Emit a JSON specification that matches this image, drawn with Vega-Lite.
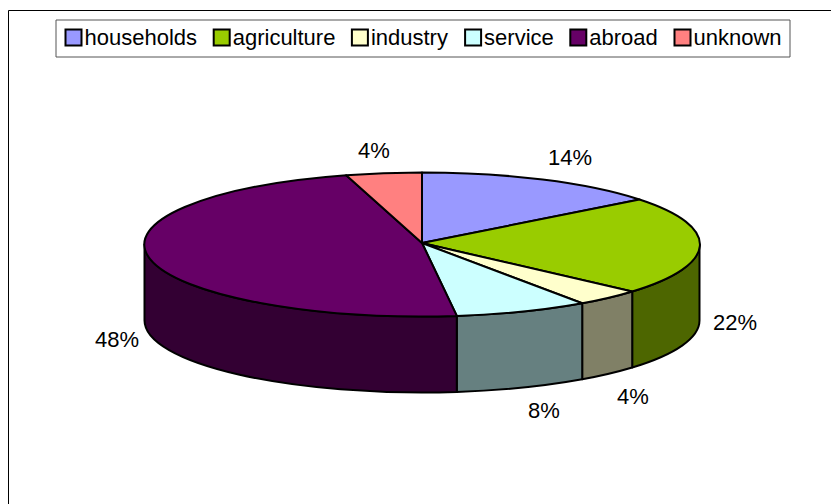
{
  "$schema": "https://vega.github.io/schema/vega-lite/v6.json",
  "width": 823,
  "height": 494,
  "autosize": "none",
  "padding": {"left": 8, "top": 10, "right": 0, "bottom": 0},
  "background": "white",
  "view": {"stroke": "black", "strokeWidth": 1, "fill": "white"},
  "data": {
    "values": [
      {"rank": 1, "slice": "households", "share": 0.14},
      {"rank": 2, "slice": "agriculture", "share": 0.22},
      {"rank": 3, "slice": "industry", "share": 0.04},
      {"rank": 4, "slice": "service", "share": 0.08},
      {"rank": 5, "slice": "abroad", "share": 0.48},
      {"rank": 6, "slice": "unknown", "share": 0.04}
    ]
  },
  "layer": [
    {
      "transform": [{"filter": {"field": "slice", "oneOf": ["agriculture", "industry", "service", "abroad"]}}],
      "mark": {"type": "point", "filled": true, "opacity": 1, "stroke": "black", "strokeWidth": 2, "strokeJoin": "round"},
      "encoding": {
        "size": {"value": 4},
        "fill": {
          "condition": [
            {"test": "datum.slice === 'agriculture'", "value": "#4D6600"},
            {"test": "datum.slice === 'industry'", "value": "#808066"},
            {"test": "datum.slice === 'service'", "value": "#668080"}
          ],
          "value": "#330033"
        },
        "shape": {
          "field": "slice",
          "type": "nominal",
          "legend": null,
          "scale": {
            "domain": ["agriculture", "industry", "service", "abroad"],
            "range": [
              "M280,-12.5 A277.5,72 0 0 1 212.7,34.5 L212.7,110.5 A277.5,72 0 0 0 280,63.5 Z",
              "M212.7,34.5 A277.5,72 0 0 1 162.7,46.3 L162.7,122.3 A277.5,72 0 0 0 212.7,110.5 Z",
              "M162.7,46.3 A277.5,72 0 0 1 37.3,58.9 L37.3,134.9 A277.5,72 0 0 0 162.7,122.3 Z",
              "M37.3,58.9 A277.5,72 0 0 1 -275,-12.5 L-275,63.5 A277.5,72 0 0 0 37.3,134.9 Z"
            ]
          }
        }
      }
    },
    {
      "mark": {"type": "point", "filled": true, "opacity": 1, "stroke": "black", "strokeWidth": 2, "strokeJoin": "round"},
      "encoding": {
        "size": {"value": 4},
        "fill": {
          "field": "slice",
          "type": "nominal",
          "title": null,
          "scale": {
            "domain": ["households", "agriculture", "industry", "service", "abroad", "unknown"],
            "range": ["#9999FF", "#99CC00", "#FFFFCC", "#CCFFFF", "#660066", "#FF8080"]
          },
          "legend": {
            "orient": "none",
            "legendX": 47.5,
            "legendY": 9.5,
            "direction": "horizontal",
            "columns": 6,
            "gridAlign": "none",
            "columnPadding": 12.2,
            "padding": 7,
            "strokeColor": "#555555",
            "fillColor": "white",
            "symbolType": "square",
            "symbolSize": 256,
            "symbolStrokeColor": "black",
            "symbolStrokeWidth": 2,
            "symbolOpacity": 1,
            "labelFont": "Liberation Sans",
            "labelFontSize": 22,
            "labelColor": "black",
            "labelOffset": 0,
            "labelLimit": 300
          }
        },
        "shape": {
          "field": "slice",
          "type": "nominal",
          "legend": null,
          "scale": {
            "domain": ["households", "agriculture", "industry", "service", "abroad", "unknown"],
            "range": [
              "M2.5,-14 L2.5,-84.5 A277.5,72 0 0 1 220,-57.5 Z",
              "M2.5,-14 L220,-57.5 A277.5,72 0 0 1 212.7,34.5 Z",
              "M2.5,-14 L212.7,34.5 A277.5,72 0 0 1 162.7,46.3 Z",
              "M2.5,-14 L162.7,46.3 A277.5,72 0 0 1 37.3,58.9 Z",
              "M2.5,-14 L37.3,58.9 A277.5,72 0 0 1 -73.3,-81.8 Z",
              "M2.5,-14 L-73.3,-81.8 A277.5,72 0 0 1 2.5,-84.5 Z"
            ]
          }
        }
      }
    },
    {
      "mark": {"type": "text", "font": "Liberation Sans", "fontSize": 22, "color": "black", "align": "center", "baseline": "middle"},
      "encoding": {
        "x": {
          "field": "rank",
          "type": "quantitative",
          "axis": null,
          "scale": {"domain": [1, 2, 3, 4, 5, 6], "range": [562, 727, 625, 536, 109, 366], "nice": false, "zero": false}
        },
        "y": {
          "field": "rank",
          "type": "quantitative",
          "axis": null,
          "scale": {"domain": [1, 2, 3, 4, 5, 6], "range": [148, 313, 387, 401, 330, 141], "nice": false, "zero": false}
        },
        "text": {"field": "share", "type": "quantitative", "format": ".0%"}
      }
    }
  ],
  "resolve": {"scale": {"shape": "independent"}}
}
